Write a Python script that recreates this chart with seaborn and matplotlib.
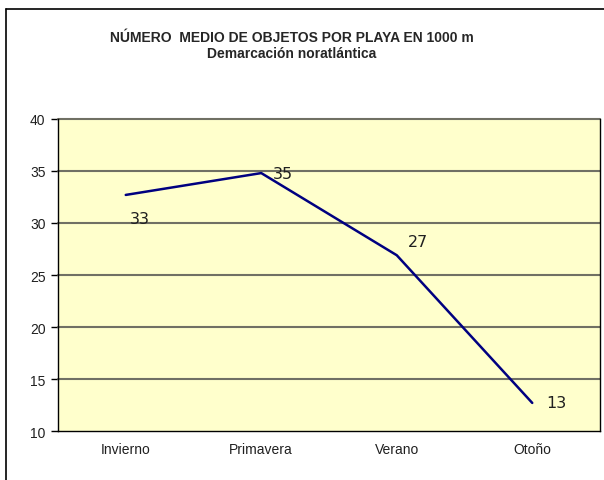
import matplotlib
matplotlib.use("Agg")
import matplotlib.pyplot as plt
from matplotlib.lines import Line2D
import seaborn as sns
import pandas as pd

# data
seasons = ["Invierno", "Primavera", "Verano", "Otoño"]
mean_objects = [32.7, 34.8, 26.9, 12.7]
y_ticks = [10, 15, 20, 25, 30, 35, 40]

title_1 = "NÚMERO  MEDIO DE OBJETOS POR PLAYA EN 1000 m"
title_2 = "Demarcación noratlántica"

df = pd.DataFrame({"season": seasons, "value": mean_objects})

sns.set_style("white")
plt.rcParams["font.family"] = ["Liberation Sans", "DejaVu Sans"]

W, H = 604, 481
fig = plt.figure(figsize=(W / 100, H / 100), dpi=100)
ax = fig.add_axes([58 / W, 1 - 432 / H, (600 - 58) / W, (432 - 120) / H])
ax.set_facecolor("#FFFFCC")

sns.lineplot(data=df, x="season", y="value", ax=ax, color="#000080",
             linewidth=1.8, sort=False, zorder=3)

ax.set_xlim(-0.5, len(seasons) - 0.5)
ax.set_ylim(10, 40)
ax.set_yticks(y_ticks)
ax.set_yticklabels([str(t) for t in y_ticks], fontsize=10, color="#202020")
ax.set_xticks(range(len(seasons)))
ax.set_xticklabels(seasons, fontsize=10, color="#202020")
ax.set_xticks([i - 0.5 for i in range(len(seasons) + 1)], minor=True)
ax.tick_params(axis="x", which="major", length=0, pad=8)
ax.tick_params(axis="x", which="minor", length=5, width=1, color="black", direction="out")
ax.tick_params(axis="y", length=5, width=1, color="black", direction="out", pad=4,
               left=True)
ax.set_xlabel("")
ax.set_ylabel("")

for t in y_ticks[1:]:
    ax.axhline(t, color="#707064", linewidth=1.5, zorder=1, clip_on=False)

for side in ["left", "bottom", "right"]:
    ax.spines[side].set_visible(True)
    ax.spines[side].set_color("black")
    ax.spines[side].set_linewidth(1.0)
ax.spines["top"].set_visible(False)

# data labels like Excel
offsets = [(3, -17), (8, 0), (8, 10), (10, 0)]
for i, (v, off) in enumerate(zip(mean_objects, offsets)):
    ax.annotate(f"{round(v):.0f}", (i, v), xytext=off, textcoords="offset points",
                fontsize=11.5, family=["DejaVu Sans"], color="#202020",
                ha="left", va="center", zorder=4)

fig.text(292 / W, 1 - 38 / H, title_1, ha="center", va="center",
         fontsize=10, fontweight="bold")
fig.text(292 / W, 1 - 54 / H, title_2, ha="center", va="center",
         fontsize=10, fontweight="bold")

# chart area border (top and left visible in the reference)
fig.add_artist(Line2D([6 / W, 1.0], [1 - 10 / H, 1 - 10 / H], color="black",
                      linewidth=1.2, transform=fig.transFigure))
fig.add_artist(Line2D([6 / W, 6 / W], [0, 1 - 10 / H], color="black",
                      linewidth=1.2, transform=fig.transFigure))

fig.savefig("out.png", dpi=100)
